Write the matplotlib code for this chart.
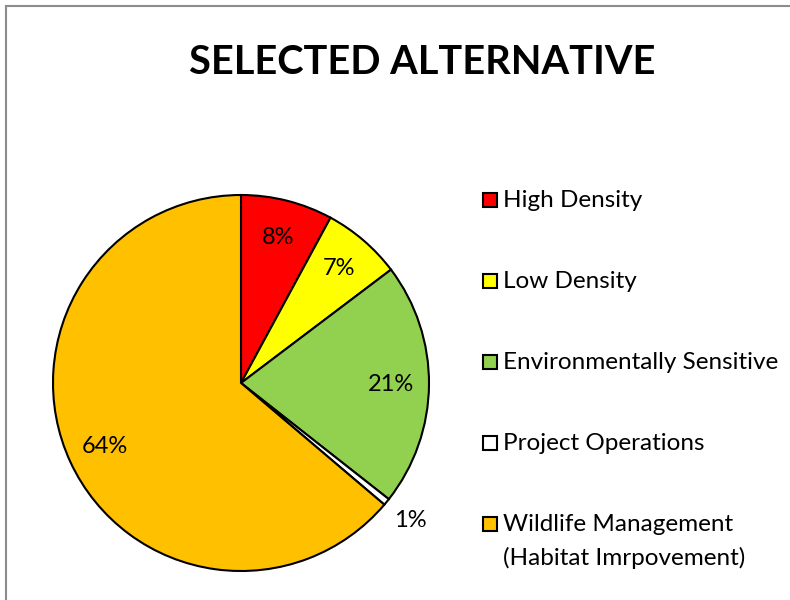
import matplotlib.pyplot as plt
from matplotlib.patches import Rectangle
import numpy as np

plt.rcParams['font.family'] = ['Lato', 'DejaVu Sans']

labels = ['High Density', 'Low Density', 'Environmentally Sensitive',
          'Project Operations', 'Wildlife Management\n(Habitat Imrpovement)']
shares = [7.9, 6.8, 20.9, 0.6, 63.8]
colors = ['#FF0000', '#FFFF00', '#92D050', '#FFFFFF', '#FFC000']
title = 'SELECTED ALTERNATIVE'

W, H = 790, 600
fig = plt.figure(figsize=(W / 100, H / 100), dpi=100)

# chart frame (cut off at right/bottom like the reference)
fig.add_artist(Rectangle((6 / W, -0.05), 1.2, 1 - 6 / H + 0.05,
                         transform=fig.transFigure, fill=False,
                         edgecolor='#8c8c8c', lw=1.5))

fig.text(422 / W, 1 - 63 / H, title, ha='center', va='center',
         fontsize=28.6, fontweight='bold')

cx, cy, r = 241, 383, 188
ax = fig.add_axes([(cx - r) / W, (H - cy - r) / H, 2 * r / W, 2 * r / H])
wedges, texts, autotexts = ax.pie(
    shares, colors=colors, startangle=90, counterclock=False,
    autopct='%.0f%%', pctdistance=0.8,
    wedgeprops=dict(edgecolor='black', linewidth=1.5, clip_on=False),
    textprops=dict(fontsize=17, color='black', clip_on=False))
ax.set_xlim(-1, 1)
ax.set_ylim(-1, 1)
ax.set_aspect('equal')

# tiny slice gets its label outside
w = wedges[3]
mid = np.deg2rad((w.theta1 + w.theta2) / 2)
autotexts[3].set_position((1.16 * np.cos(mid), 1.16 * np.sin(mid)))

# legend drawn by hand so the marker sits on the first line
for i, (lab, col) in enumerate(zip(labels, colors)):
    y = 200 + 81 * i
    fig.add_artist(Rectangle((483 / W, 1 - (y + 7) / H), 14 / W, 14 / H,
                             transform=fig.transFigure, facecolor=col,
                             edgecolor='black', lw=1.5))
    fig.text(503 / W, 1 - (y - 10) / H, lab, ha='left', va='top',
             fontsize=17.5, linespacing=1.65)

fig.savefig('out.png', dpi=100)
